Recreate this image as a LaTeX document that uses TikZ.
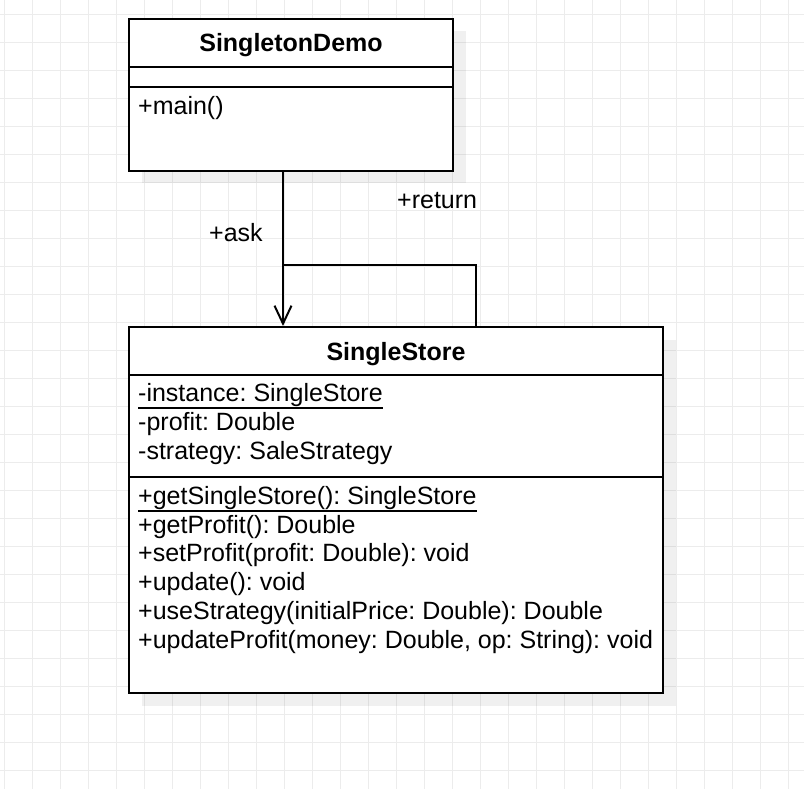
\documentclass[tikz,border=0pt]{standalone}
\usepackage{fontspec}
\setmainfont{Liberation Sans}
\usetikzlibrary{arrows.meta, shadows}
\frenchspacing

\begin{document}
\begin{tikzpicture}
  [x=1pt, y=-1pt,
   gridline/.style={draw=gray!15, line width=1pt},
   compartment/.style={rectangle, draw, fill=white, line width=2pt,
                       inner sep=0pt, anchor=north west},
   classname/.style={compartment, font=\fontsize{25}{29}\selectfont\bfseries,
                     text height=18pt, text depth=0pt},
   member/.style={anchor=base west, inner sep=0pt,
                  font=\fontsize{25}{29}\selectfont},
   shade/.style={fill=black, fill opacity=0.06},
   static/.style={line width=2pt},
   ask/.style={-{Straight Barb[length=18pt, width=17pt]}, line width=2pt},
   giveback/.style={line width=2pt}]

  \useasboundingbox (0,0) rectangle (804,789);

  % Grade
  \foreach \gx in {4.7,32.7,...,804}
    \draw [gridline] (\gx,0) -- (\gx,789);
  \foreach \gy in {14.7,42.7,...,789}
    \draw [gridline] (0,\gy) -- (804,\gy);

  % Sombras
  \fill [shade] (141.5,31.5) rectangle (465.5,183.5);
  \fill [shade] (141.5,339.5) rectangle (675.5,705.5);

  % SingletonDemo
  \node (demohead) at (128,18) [classname, minimum width=324pt,
    minimum height=48pt] {SingletonDemo};
  \node (demoattr) at (128,66) [compartment, minimum width=324pt,
    minimum height=20pt] {};
  \node (demoops) at (128,86) [compartment, minimum width=324pt,
    minimum height=84pt] {};
  \node (mainop) at (138,115) [member] {+main()};

  % SingleStore
  \node (storehead) at (128,326) [classname, minimum width=534pt,
    minimum height=48pt] {SingleStore};
  \node (storeattr) at (128,374) [compartment, minimum width=534pt,
    minimum height=102pt] {};
  \node (storeops) at (128,476) [compartment, minimum width=534pt,
    minimum height=215.5pt] {};

  % Atributos
  \node (instance) at (138,401.7) [member] {-instance: SingleStore};
  \node (profit) at (138,430.4) [member] {-profit: Double};
  \node (strategy) at (138,459.1) [member] {-strategy: SaleStrategy};
  \draw [static] ([yshift=-6pt]instance.base west)
    -- ([yshift=-6pt]instance.base east);

  % Metodos
  \node (getstore) at (138,504.5) [member] {+getSingleStore(): SingleStore};
  \node (getprofit) at (138,533.2) [member] {+getProfit(): Double};
  \node (setprofit) at (138,561.9) [member] {+setProfit(profit: Double): void};
  \node (update) at (138,590.6) [member] {+update(): void};
  \node (usestrategy) at (138,619.3) [member]
    {+useStrategy(initialPrice: Double): Double};
  \node (updateprofit) at (138,648) [member]
    {+updateProfit(money: Double, op: String): void};
  \draw [static] ([yshift=-6pt]getstore.base west)
    -- ([yshift=-6pt]getstore.base east);

  % Associacoes
  \coordinate (returnjoint) at (282,264.5);
  \draw [ask] ([xshift=-8pt]demoops.south)
    -- ([xshift=-8pt]demoops.south |- storehead.north);
  \draw [giveback] ([xshift=80pt]storehead.north) |- (returnjoint);
  \node (asklabel) at (209,242) [member] {+ask};
  \node (returnlabel) at (397,209) [member] {+return};

\end{tikzpicture}
\end{document}
